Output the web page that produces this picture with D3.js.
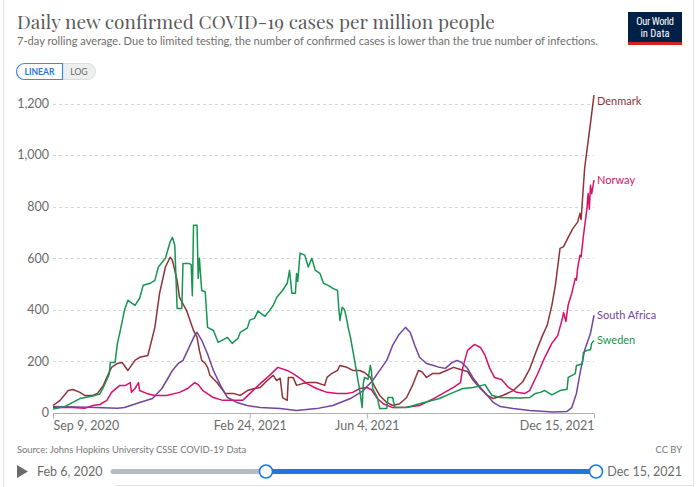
<!DOCTYPE html>
<html><head><meta charset="utf-8">
<script src="https://cdn.jsdelivr.net/npm/d3@7"></script>
<style>html,body{margin:0;padding:0;background:#fff;} svg{display:block;font-family:Lato,"Noto Sans",sans-serif;}</style>
</head><body><svg id="c" width="700" height="487"></svg>
<script>
const countries = ["Denmark", "Norway", "South Africa", "Sweden"];
const colors = ["#8f3338", "#D8116A", "#7344A0", "#159650"];
const yTicks = [0, 200, 400, 600, 800, 1000, 1200];
const xTickDates = ["2020-09-09", "2021-02-24", "2021-06-04", "2021-12-15"];
const xTickLabels = ["Sep 9, 2020", "Feb 24, 2021", "Jun 4, 2021", "Dec 15, 2021"];

const denmark = [["2020-09-09",29],["2020-09-15",49],["2020-09-22",87],["2020-09-26",91],["2020-10-02",80],["2020-10-06",68],["2020-10-13",68],["2020-10-17",76],["2020-10-22",107],["2020-10-25",138],["2020-10-29",177],["2020-11-03",192],["2020-11-07",196],["2020-11-12",165],["2020-11-18",204],["2020-11-22",216],["2020-11-29",223],["2020-12-05",332],["2020-12-09",464],["2020-12-14",566],["2020-12-18",604],["2020-12-20",592],["2020-12-24",514],["2020-12-26",448],["2021-01-01",398],["2021-01-07",320],["2021-01-10",294],["2021-01-12",243],["2021-01-14",204],["2021-01-17",192],["2021-01-19",177],["2021-01-21",146],["2021-01-27",118],["2021-02-03",76],["2021-02-10",76],["2021-02-16",68],["2021-02-22",87],["2021-02-28",95],["2021-03-05",99],["2021-03-11",126],["2021-03-16",146],["2021-03-19",126],["2021-03-22",135],["2021-03-24",60],["2021-03-28",49],["2021-03-29",138],["2021-04-02",138],["2021-04-05",107],["2021-04-10",114],["2021-04-15",118],["2021-04-22",118],["2021-04-29",107],["2021-05-01",138],["2021-05-05",153],["2021-05-10",165],["2021-05-12",184],["2021-05-18",177],["2021-05-23",165],["2021-05-29",165],["2021-06-02",157],["2021-06-07",138],["2021-06-11",99],["2021-06-15",68],["2021-06-21",41],["2021-06-26",29],["2021-07-02",36],["2021-07-08",60],["2021-07-13",107],["2021-07-18",165],["2021-07-21",160],["2021-07-25",138],["2021-07-30",153],["2021-08-05",153],["2021-08-11",165],["2021-08-17",177],["2021-08-23",169],["2021-08-29",161],["2021-09-03",126],["2021-09-09",95],["2021-09-15",68],["2021-09-20",56],["2021-09-28",68],["2021-10-07",87],["2021-10-15",120],["2021-10-21",170],["2021-10-27",243],["2021-11-01",300],["2021-11-05",340],["2021-11-09",417],["2021-11-12",495],["2021-11-16",638],["2021-11-19",645],["2021-11-23",681],["2021-11-27",716],["2021-12-01",740],["2021-12-03",774],["2021-12-04",750],["2021-12-07",949],["2021-12-12",1124],["2021-12-15",1233]];

const norway = [["2020-09-09",21],["2020-09-26",21],["2020-10-06",18],["2020-10-13",29],["2020-10-19",33],["2020-10-25",49],["2020-10-29",80],["2020-11-05",107],["2020-11-10",107],["2020-11-14",118],["2020-11-15",80],["2020-11-18",95],["2020-11-21",118],["2020-11-22",87],["2020-11-28",76],["2020-12-05",68],["2020-12-15",68],["2020-12-26",80],["2021-01-02",95],["2021-01-08",118],["2021-01-11",110],["2021-01-15",87],["2021-01-24",60],["2021-02-01",49],["2021-02-18",49],["2021-02-24",75],["2021-03-05",114],["2021-03-13",146],["2021-03-20",177],["2021-03-28",165],["2021-04-02",153],["2021-04-08",134],["2021-04-14",114],["2021-04-22",95],["2021-05-01",80],["2021-05-10",76],["2021-05-18",76],["2021-05-23",80],["2021-05-29",95],["2021-06-04",99],["2021-06-08",90],["2021-06-13",56],["2021-06-18",36],["2021-06-26",21],["2021-07-08",22],["2021-07-19",29],["2021-07-31",56],["2021-08-08",76],["2021-08-17",99],["2021-08-23",118],["2021-08-25",177],["2021-08-29",243],["2021-09-04",266],["2021-09-09",254],["2021-09-13",223],["2021-09-17",173],["2021-09-21",138],["2021-09-27",130],["2021-10-03",99],["2021-10-10",80],["2021-10-17",76],["2021-10-21",87],["2021-10-28",153],["2021-11-03",216],["2021-11-09",270],["2021-11-13",294],["2021-11-14",300],["2021-11-18",367],["2021-11-19",390],["2021-11-21",355],["2021-11-23",420],["2021-11-26",464],["2021-11-29",522],["2021-11-30",515],["2021-12-01",561],["2021-12-03",612],["2021-12-04",605],["2021-12-06",689],["2021-12-09",793],["2021-12-10",851],["2021-12-11",790],["2021-12-12",883],["2021-12-13",850],["2021-12-15",903]];

const southAfrica = [["2020-09-09",25],["2020-10-09",22],["2020-11-03",18],["2020-11-09",21],["2020-11-22",41],["2020-12-03",56],["2020-12-11",95],["2020-12-15",126],["2020-12-20",165],["2020-12-25",192],["2020-12-29",204],["2021-01-04",262],["2021-01-08",301],["2021-01-10",313],["2021-01-14",282],["2021-01-19",229],["2021-01-24",165],["2021-01-30",107],["2021-02-05",60],["2021-02-13",41],["2021-02-22",29],["2021-03-05",21],["2021-03-22",17],["2021-04-05",10],["2021-04-22",17],["2021-05-06",29],["2021-05-21",56],["2021-06-01",87],["2021-06-09",126],["2021-06-15",165],["2021-06-21",204],["2021-06-26",262],["2021-07-01",301],["2021-07-07",332],["2021-07-11",313],["2021-07-15",262],["2021-07-19",216],["2021-07-25",192],["2021-07-31",184],["2021-08-05",177],["2021-08-10",173],["2021-08-16",196],["2021-08-20",204],["2021-08-24",196],["2021-08-29",173],["2021-09-03",134],["2021-09-09",99],["2021-09-15",68],["2021-09-20",41],["2021-09-26",25],["2021-10-07",17],["2021-10-21",10],["2021-11-10",4],["2021-11-22",6],["2021-11-26",21],["2021-11-30",76],["2021-12-03",153],["2021-12-07",243],["2021-12-12",309],["2021-12-15",379]];

const sweden = [["2020-09-09",15],["2020-09-19",25],["2020-10-02",56],["2020-10-13",66],["2020-10-19",74],["2020-10-22",99],["2020-10-27",150],["2020-10-28",196],["2020-11-01",196],["2020-11-03",270],["2020-11-05",310],["2020-11-09",398],["2020-11-12",437],["2020-11-18",417],["2020-11-22",445],["2020-11-25",495],["2020-12-01",503],["2020-12-05",514],["2020-12-08",566],["2020-12-14",600],["2020-12-18",663],["2020-12-20",681],["2020-12-22",650],["2020-12-24",405],["2020-12-28",405],["2020-12-29",580],["2021-01-03",580],["2021-01-05",575],["2021-01-06",455],["2021-01-07",728],["2021-01-10",728],["2021-01-11",522],["2021-01-12",600],["2021-01-14",475],["2021-01-17",470],["2021-01-19",332],["2021-01-24",320],["2021-01-28",274],["2021-02-05",293],["2021-02-09",270],["2021-02-14",290],["2021-02-16",313],["2021-02-22",330],["2021-02-24",360],["2021-02-28",367],["2021-03-03",395],["2021-03-09",375],["2021-03-13",398],["2021-03-16",417],["2021-03-19",448],["2021-03-24",475],["2021-03-28",503],["2021-03-30",553],["2021-04-01",464],["2021-04-04",464],["2021-04-05",541],["2021-04-06",510],["2021-04-08",620],["2021-04-12",612],["2021-04-15",566],["2021-04-18",600],["2021-04-21",553],["2021-04-25",541],["2021-04-28",503],["2021-05-02",495],["2021-05-06",483],["2021-05-10",475],["2021-05-11",410],["2021-05-12",359],["2021-05-14",410],["2021-05-16",400],["2021-05-18",359],["2021-05-19",332],["2021-05-21",294],["2021-05-25",192],["2021-05-27",138],["2021-05-29",87],["2021-05-31",21],["2021-06-01",114],["2021-06-02",138],["2021-06-05",130],["2021-06-07",184],["2021-06-08",160],["2021-06-09",95],["2021-06-13",60],["2021-06-15",17],["2021-06-21",17],["2021-06-22",60],["2021-06-26",60],["2021-06-28",21],["2021-07-08",21],["2021-07-19",36],["2021-08-05",56],["2021-08-17",80],["2021-08-25",95],["2021-09-03",99],["2021-09-13",110],["2021-09-15",95],["2021-09-19",68],["2021-09-26",60],["2021-10-13",58],["2021-10-21",60],["2021-10-26",76],["2021-10-30",80],["2021-11-03",87],["2021-11-09",70],["2021-11-16",87],["2021-11-22",92],["2021-11-23",138],["2021-11-29",153],["2021-11-30",184],["2021-12-05",190],["2021-12-06",235],["2021-12-09",243],["2021-12-12",245],["2021-12-13",270],["2021-12-15",281]];

const seriesData = [denmark, norway, southAfrica, sweden];

const parse = d3.utcParse("%Y-%m-%d");
const svg = d3.select("#c");

// frame
svg.append("line").attr("x1",3.5).attr("x2",3.5).attr("y1",0).attr("y2",487).attr("stroke","#e3e3e3");
svg.append("line").attr("x1",693.5).attr("x2",693.5).attr("y1",0).attr("y2",487).attr("stroke","#e3e3e3");
svg.append("line").attr("x1",116).attr("x2",693).attr("y1",485.5).attr("y2",485.5).attr("stroke","#e3e3e3");

// title
svg.append("text").attr("x",17).attr("y",28.5)
  .attr("font-family","'Playfair Display','DejaVu Serif',serif").attr("font-size",19.5)
  .attr("fill","#5b5b5b").attr("textLength",478).attr("lengthAdjust","spacingAndGlyphs")
  .text("Daily new confirmed COVID-19 cases per million people");
svg.append("text").attr("x",17).attr("y",44.5).attr("font-size",10.6).attr("fill","#6e6e6e")
  .attr("textLength",581).attr("lengthAdjust","spacingAndGlyphs")
  .text("7-day rolling average. Due to limited testing, the number of confirmed cases is lower than the true number of infections.");

// logo
const logo = svg.append("g");
logo.append("rect").attr("x",628).attr("y",12).attr("width",54).attr("height",33).attr("fill","#002147");
logo.append("rect").attr("x",628).attr("y",42).attr("width",54).attr("height",3).attr("fill","#ce261e");
logo.append("text").attr("x",655).attr("y",24.5).attr("text-anchor","middle").attr("fill","#fff")
  .attr("font-size",10.5).attr("font-family","'Liberation Sans Narrow','Roboto Condensed','Liberation Sans',sans-serif").attr("letter-spacing",-0.4).text("Our World");
logo.append("text").attr("x",655).attr("y",36.5).attr("text-anchor","middle").attr("fill","#fff")
  .attr("font-size",10.5).attr("font-family","'Liberation Sans Narrow','Roboto Condensed','Liberation Sans',sans-serif").text("in Data");

// linear/log toggle
const tg = svg.append("g");
tg.append("rect").attr("x",16.5).attr("y",63.5).attr("width",79).attr("height",16).attr("rx",8)
  .attr("fill","#eeeeee").attr("stroke","#dcdcdc");
tg.append("path").attr("d","M62.5,63.5 H24.5 A8,8 0 0 0 24.5,79.5 H62.5 Z")
  .attr("fill","#fff").attr("stroke","#3b8be0").attr("stroke-width",1.2);
tg.append("text").attr("x",39.5).attr("y",74.8).attr("text-anchor","middle").attr("font-size",8.6)
  .attr("font-weight",700).attr("fill","#2a78d6").text("LINEAR");
tg.append("text").attr("x",79).attr("y",74.8).attr("text-anchor","middle").attr("font-size",8.6)
  .attr("fill","#666").text("LOG");

// scales
const x = d3.scaleUtc().domain([parse("2020-09-09"), parse("2021-12-15")]).range([53, 594]);
const y = d3.scaleLinear().domain([0, 1200]).range([413, 103.5]);

// grid
const grid = svg.append("g");
grid.selectAll("line").data(yTicks.filter(d => d > 0)).join("line")
  .attr("x1",53).attr("x2",594).attr("y1",d => Math.round(y(d))+0.5).attr("y2",d => Math.round(y(d))+0.5)
  .attr("stroke","#d6d6d6").attr("stroke-dasharray","3,3");
grid.selectAll("text").data(yTicks).join("text")
  .attr("x",49).attr("y",d => y(d)).attr("dy","0.35em").attr("text-anchor","end")
  .attr("font-size",12.5).attr("fill","#6b6b6b").text(d => d3.format(",")(d));

// x axis
const xAxis = d3.axisBottom(x).tickValues(xTickDates.map(parse)).tickSize(5)
  .tickFormat((d,i) => xTickLabels[i]);
const xg = svg.append("g").attr("transform","translate(0,413.5)").call(xAxis);
xg.select(".domain").attr("stroke","#b0b0b0").attr("d","M53,0H594");
xg.selectAll(".tick line").attr("stroke","#b0b0b0");
xg.selectAll(".tick text").attr("font-size",12.5).attr("fill","#6b6b6b").attr("font-family","Lato,sans-serif")
  .attr("y",8).attr("dy","0.71em")
  .attr("text-anchor",(d,i) => i === 0 ? "start" : (i === xTickDates.length-1 ? "end" : "middle"));

// lines
const line = d3.line().x(d => x(parse(d[0]))).y(d => y(d[1]));
const lg = svg.append("g");
seriesData.forEach((s,i) => {
  lg.append("path").datum(s).attr("d",line).attr("fill","none")
    .attr("stroke",colors[i]).attr("stroke-width",1.5).attr("stroke-linejoin","round");
});
// labels
seriesData.forEach((s,i) => {
  const last = s[s.length-1];
  svg.append("text").attr("x",597).attr("y",Math.max(y(last[1]), y(1200)-2)).attr("dy","0.35em")
    .attr("font-size",11).attr("fill",colors[i]).text(countries[i]);
});

// source
svg.append("text").attr("x",17).attr("y",453).attr("font-size",9.4).attr("fill","#777")
  .text("Source: Johns Hopkins University CSSE COVID-19 Data");
svg.append("text").attr("x",682).attr("y",453).attr("text-anchor","end").attr("font-size",9.4).attr("fill","#777")
  .text("CC BY");

// timeline
const tl = svg.append("g");
tl.append("path").attr("d","M17,465 L28,471.5 L17,478 Z").attr("fill","#6b6b6b");
tl.append("text").attr("x",37).attr("y",471.5).attr("dy","0.35em").attr("font-size",12.5).attr("fill","#6b6b6b").text("Feb 6, 2020");
tl.append("line").attr("x1",113).attr("x2",266).attr("y1",471.5).attr("y2",471.5).attr("stroke","#b7bcc4").attr("stroke-width",5).attr("stroke-linecap","round");
tl.append("line").attr("x1",266).attr("x2",596).attr("y1",471.5).attr("y2",471.5).attr("stroke","#1a78e3").attr("stroke-width",5);
[266, 596].forEach(cx => tl.append("circle").attr("cx",cx).attr("cy",471.5).attr("r",6.5).attr("fill","#fff").attr("stroke","#1a78e3").attr("stroke-width",1.6));
tl.append("text").attr("x",682).attr("y",471.5).attr("dy","0.35em").attr("text-anchor","end").attr("font-size",12.5).attr("fill","#6b6b6b").text("Dec 15, 2021");
</script></body></html>
